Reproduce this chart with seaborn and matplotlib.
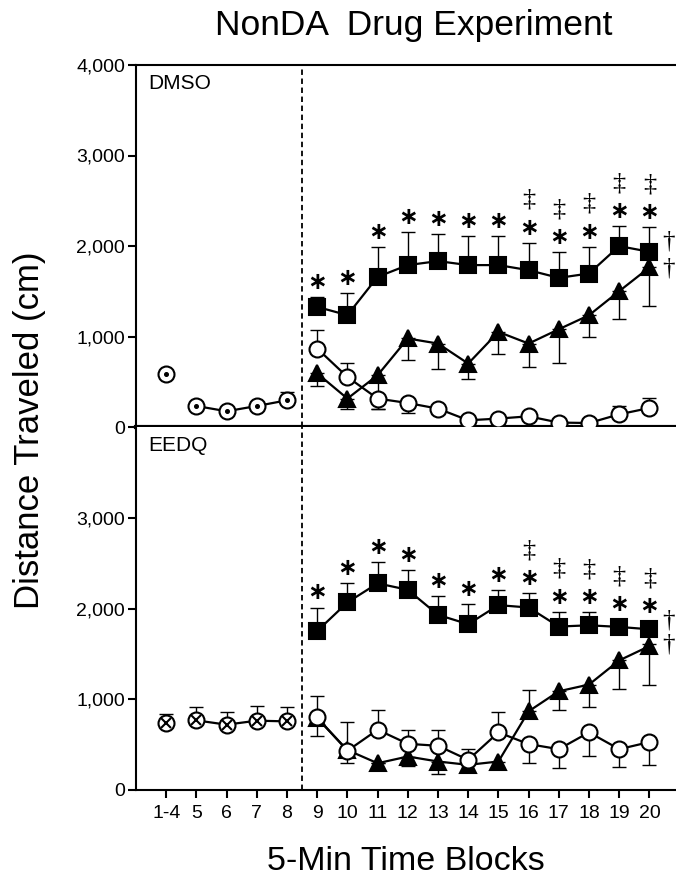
import numpy as np
import pandas as pd
import matplotlib
matplotlib.use("Agg")
import matplotlib.pyplot as plt
import seaborn as sns

# ---------------- data ----------------
tick_labels = ["1-4", "5", "6", "7", "8", "9", "10", "11", "12", "13",
               "14", "15", "16", "17", "18", "19", "20"]
base_pos = [0, 1, 2, 3, 4]
drug_pos = [5, 6, 7, 8, 9, 10, 11, 12, 13, 14, 15, 16]

# DMSO panel
dmso_base = [590, 232, 174, 232, 295]
dmso_base_hi = [40, 40, 40, 40, 92]
dmso_sq = [1327, 1236, 1659, 1789, 1833, 1789, 1789, 1733, 1648, 1696, 1999, 1936]
dmso_sq_hi = [111, 243, 332, 368, 295, 320, 320, 302, 284, 295, 221, 269]
dmso_tri = [593, 314, 572, 978, 922, 701, 1051, 922, 1080, 1235, 1501, 1763]
dmso_tri_lo = [140, 111, 369, 240, 276, 166, 239, 258, 372, 240, 310, 428]
dmso_tri_hi = [0, 0, 0, 0, 0, 0, 0, 0, 0, 0, 0, 0]
dmso_circ = [867, 553, 314, 265, 203, 74, 93, 118, 49, 44, 140, 210]
dmso_circ_lo = [0, 0, 110, 110, 60, 30, 30, 40, 20, 20, 0, 0]
dmso_circ_hi = [202, 159, 0, 0, 0, 0, 0, 0, 0, 0, 89, 111]
dmso_star = [1, 1, 1, 1, 1, 1, 1, 1, 1, 1, 1, 1]
dmso_ddag = [0, 0, 0, 0, 0, 0, 0, 1, 1, 1, 1, 1]
dmso_dag_y = [2046, 1750]

# EEDQ panel
eedq_base = [738, 767, 720, 764, 756]
eedq_base_hi = [103, 148, 140, 158, 155]
eedq_sq = [1752, 2067, 2277, 2206, 1930, 1827, 2037, 2011, 1801, 1815, 1797, 1771]
eedq_sq_hi = [259, 213, 233, 218, 203, 221, 169, 155, 162, 141, 85, 90]
eedq_tri = [790, 440, 295, 369, 314, 277, 314, 867, 1088, 1162, 1428, 1586]
eedq_tri_lo = [0, 0, 0, 100, 137, 74, 74, 0, 210, 247, 310, 424]
eedq_tri_hi = [0, 0, 0, 0, 0, 0, 0, 240, 0, 0, 0, 20]
eedq_circ = [800, 432, 664, 509, 487, 332, 635, 506, 450, 635, 450, 528]
eedq_circ_lo = [202, 137, 0, 0, 0, 0, 0, 211, 210, 255, 199, 251]
eedq_circ_hi = [241, 313, 222, 155, 170, 118, 221, 0, 0, 0, 0, 0]
eedq_star = [1, 1, 1, 1, 1, 1, 1, 1, 1, 1, 1, 1]
eedq_ddag = [0, 0, 0, 0, 0, 0, 0, 1, 1, 1, 1, 1]
eedq_dag_y = [1863, 1605]

# ---------------- style ----------------
sns.set_style("ticks")
plt.rcParams["font.family"] = ["Liberation Sans", "DejaVu Sans"]
plt.rcParams["axes.linewidth"] = 1.5
for k in ["text.color", "axes.labelcolor", "xtick.color", "ytick.color", "axes.edgecolor"]:
    plt.rcParams[k] = "black"

W, H = 676, 881
fig = plt.figure(figsize=(W / 100, H / 100), dpi=100)
left = 136 / W
ax_top = fig.add_axes([left, 1 - 427 / H, 1 - left, (427 - 65) / H])
ax_bot = fig.add_axes([left, 1 - 790 / H, 1 - left, (790 - 427) / H])

MS = 11.5
LW = 1.6
EB = dict(fmt="none", ecolor="black", elinewidth=1.0, capsize=5, capthick=1.0, zorder=2)


def line(ax, x, y, marker, face, ms=MS, zorder=3):
    df = pd.DataFrame({"x": x, "y": y})
    sns.lineplot(data=df, x="x", y="y", ax=ax, color="black", linewidth=LW,
                 marker=marker, markersize=ms, markerfacecolor=face,
                 markeredgecolor="black", markeredgewidth=1.5, zorder=zorder,
                 legend=False, errorbar=None, sort=False)


def panel(ax, base, base_hi, base_kind, sq, sq_hi, tri, tri_lo, tri_hi,
          circ, circ_lo, circ_hi, star, ddag, dag_y, label):
    # error bars
    ax.errorbar(base_pos, base, yerr=[np.zeros(5), base_hi], **EB)
    ax.errorbar(drug_pos, sq, yerr=[np.zeros(12), sq_hi], **EB)
    ax.errorbar(drug_pos, tri, yerr=[tri_lo, tri_hi], **EB)
    ax.errorbar(drug_pos, circ, yerr=[circ_lo, circ_hi], **EB)
    # baseline: 1-4 separate, 5-8 connected
    line(ax, base_pos[:1], base[:1], "o", "white", zorder=4)
    line(ax, base_pos[1:], base[1:], "o", "white", zorder=4)
    if base_kind == "dot":
        ax.plot(base_pos, base, ls="none", marker="o", ms=2.6, color="black", zorder=5)
    else:
        ax.plot(base_pos, base, ls="none", marker="x", ms=7.5, mew=1.5, color="black", zorder=5)
    # drug phase
    line(ax, drug_pos, tri, "^", "black", ms=11.5, zorder=3)
    line(ax, drug_pos, circ, "o", "white", zorder=4)
    line(ax, drug_pos, sq, "s", "black", ms=11.5, zorder=4)
    # annotations
    for x, v, e, s, d in zip(drug_pos, sq, sq_hi, star, ddag):
        top = v + e
        if s:
            ax.annotate("\u2217", xy=(x, top), xytext=(0, 11), textcoords="offset points",
                        ha="center", va="center", fontsize=17, family="DejaVu Sans",
                        fontweight="bold")
        if d:
            ax.annotate("\u2021", xy=(x, top), xytext=(0, 31), textcoords="offset points",
                        ha="center", va="center", fontsize=19, family="Liberation Serif")
    for yv in dag_y:
        ax.text(16.62, yv, "\u2020", ha="center", va="center", fontsize=18,
                family="Liberation Serif")
    ax.text(0.022, 0.95, label, transform=ax.transAxes, ha="left", va="center",
            fontsize=15)
    ax.axvline(4.5, color="black", lw=1.3, dashes=(3, 2), zorder=1)
    ax.set_xlim(-1, 16.88)
    ax.set_ylim(0, 4000)
    ax.set_xlabel("")
    ax.set_ylabel("")
    ax.spines["right"].set_visible(False)
    ax.tick_params(axis="y", direction="out", length=6, width=1.5, labelsize=14, pad=2)
    ax.tick_params(axis="x", direction="out", length=6, width=1.5, labelsize=14, pad=5)


panel(ax_top, dmso_base, dmso_base_hi, "dot", dmso_sq, dmso_sq_hi, dmso_tri,
      dmso_tri_lo, dmso_tri_hi, dmso_circ, dmso_circ_lo, dmso_circ_hi,
      dmso_star, dmso_ddag, dmso_dag_y, "DMSO")
panel(ax_bot, eedq_base, eedq_base_hi, "x", eedq_sq, eedq_sq_hi, eedq_tri,
      eedq_tri_lo, eedq_tri_hi, eedq_circ, eedq_circ_lo, eedq_circ_hi,
      eedq_star, eedq_ddag, eedq_dag_y, "EEDQ")

ax_top.set_yticks([0, 1000, 2000, 3000, 4000])
ax_top.set_yticklabels(["0", "1,000", "2,000", "3,000", "4,000"])
ax_top.set_xticks([])
ax_top.spines["bottom"].set_linewidth(3.0)
ax_top.spines["top"].set_linewidth(1.5)

ax_bot.set_yticks([0, 1000, 2000, 3000])
ax_bot.set_yticklabels(["0", "1,000", "2,000", "3,000"])
ax_bot.set_xticks(range(len(tick_labels)))
ax_bot.set_xticklabels(tick_labels)
ax_bot.spines["top"].set_visible(False)
ax_bot.spines["bottom"].set_linewidth(1.5)

fig.text(414 / W, 1 - 25 / H, "NonDA  Drug Experiment", ha="center", va="center", fontsize=25.5)
fig.text(30 / W, 1 - 430 / H, "Distance Traveled (cm)", ha="center", va="center",
         rotation=90, fontsize=25)
fig.text(406 / W, 1 - 862 / H, "5-Min Time Blocks", ha="center", va="center", fontsize=24.5)

fig.savefig("out.png", dpi=100)
